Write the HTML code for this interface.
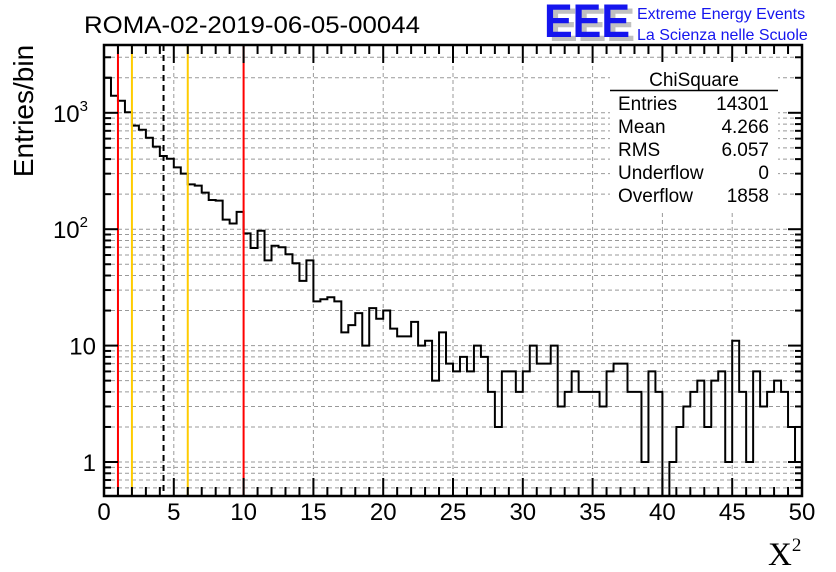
<!DOCTYPE html>
<html><head><meta charset="utf-8"><style>
body{margin:0;background:#fff}
svg{display:block;font-family:"Liberation Sans",sans-serif}
</style></head><body>
<svg id="c" width="836" height="572" viewBox="0 0 836 572">
<rect width="836" height="572" fill="#fff"/>
<g id="grid"></g>
<g id="marks"></g>
<g id="axes"></g>
<text x="84" y="33" font-size="24" textLength="336" lengthAdjust="spacingAndGlyphs">ROMA-02-2019-06-05-00044</text>
<g>
<text x="549" y="41" font-size="47" font-weight="bold" fill="#c0c0c0" textLength="86" lengthAdjust="spacingAndGlyphs">EEE</text>
<text x="544" y="37" font-size="47" font-weight="bold" fill="#1515ee" textLength="86" lengthAdjust="spacingAndGlyphs">EEE</text>
<text x="637" y="19" font-size="16" fill="#1515ee">Extreme Energy Events</text>
<text x="637" y="40" font-size="16" fill="#1515ee">La Scienza nelle Scuole</text>
</g>
<g font-size="19">
<rect x="610" y="62" width="168" height="150" fill="#fff"/>
<text x="694" y="86" text-anchor="middle">ChiSquare</text>
<line x1="610" y1="90.5" x2="778" y2="90.5" stroke="#000" stroke-width="1.5"/>
<text x="618" y="110">Entries</text><text x="769" y="110" text-anchor="end">14301</text>
<text x="618" y="133">Mean</text><text x="769" y="133" text-anchor="end">4.266</text>
<text x="618" y="156">RMS</text><text x="769" y="156" text-anchor="end">6.057</text>
<text x="618" y="179">Underflow</text><text x="769" y="179" text-anchor="end">0</text>
<text x="618" y="202">Overflow</text><text x="769" y="202" text-anchor="end">1858</text>
</g>
<text transform="translate(33,111) rotate(-90)" text-anchor="middle" font-size="28">Entries/bin</text>
<text x="768" y="565" font-size="33" font-family="Liberation Serif,serif">X<tspan font-size="19" dy="-14">2</tspan></text>
</svg>
<script>
const binCounts=[2000,1400,1270,1010,775,716,611,512,425,403,340,300,243,237,206,178,176,121,112,141,92,69,97,54,72,70,61,51,36,54,24,25,26,24,13,15,
19,10,21,17,20,14,12,12,16,10,11,5,13,7,6,8,6,10,8,4,2,6,6,4,6,10,7,7,10,3,4,
6,4,4,4,3,6,7,7,4,4,1,6,4,0,1,2,3,4,5,2,5,6,1,11,4,1,6,3,4,5,4,2,1];
const xTicks=[0,5,10,15,20,25,30,35,40,45,50];
const yDecades=[1,10,100,1000];
const yDecadeLabels=["1","10","10|2","10|3"];
const redLines=[1,10];
const yellowLines=[2,6];
const meanLine=[4.266];
const NS='http://www.w3.org/2000/svg';
const L=104,R=802,T=45,B=496,xmin=0,xmax=50,binW=0.5;
const y1=462,dec=116.4;
const X=v=>L+(v-xmin)/(xmax-xmin)*(R-L);
const Y=v=>v<=0?B:Math.min(B,Math.max(T,y1-dec*Math.log10(v)));
function mk(t,a,p){const e=document.createElementNS(NS,t);for(const k in a)e.setAttribute(k,a[k]);p.appendChild(e);return e;}
const grid=document.getElementById('grid'),marks=document.getElementById('marks'),axes=document.getElementById('axes');
for(const t of xTicks){if(t===xmin||t===xmax)continue;const g=mk('line',{x1:X(t),x2:X(t),y1:T,y2:B,stroke:'#999','stroke-dasharray':'4,3'},grid);

}
for(const d of [0.1,1,10,100,1000])for(let m=1;m<10;m++){const v=d*m;const y=y1-dec*Math.log10(v);if(y<=T||y>=B)continue;
const g=mk('line',{x1:L,x2:R,y1:y,y2:y,stroke:'#999','stroke-dasharray':'4,3'},grid);


const tl=(m===1)?14:7;
const t1=mk('line',{x1:L,x2:L+tl,y1:y,y2:y,stroke:'#000','stroke-width':2},axes);


const t2=mk('line',{x1:R-tl,x2:R,y1:y,y2:y,stroke:'#000','stroke-width':2},axes);

}
let d='M'+X(0)+','+Y(binCounts[0]);
binCounts.forEach((c,i)=>{const y=Y(c);d+=' L'+X(i*binW)+','+y+' L'+X((i+1)*binW)+','+y;});
const h=mk('path',{d:d,fill:'none',stroke:'#000','stroke-width':2},marks);


function vline(v,col,dash,name){const e=mk('line',{x1:X(v),x2:X(v),y1:T,y2:B,stroke:col,'stroke-width':2},marks);if(dash)e.setAttribute('stroke-dasharray',dash);

}
redLines.forEach(v=>vline(v,'#ff0000',null,'red-cut-line'));
yellowLines.forEach(v=>vline(v,'#ffcc00',null,'yellow-cut-line'));
meanLine.forEach(v=>vline(v,'#000',"6,4",'mean-line'));
const f=mk('rect',{x:L,y:T,width:R-L,height:B-T,fill:'none',stroke:'#000','stroke-width':2.5},axes);


for(let v=xmin;v<=xmax;v++){const tl=(v%5===0)?18:9;
const a=mk('line',{x1:X(v),x2:X(v),y1:B-tl,y2:B,stroke:'#000','stroke-width':2},axes);


const b=mk('line',{x1:X(v),x2:X(v),y1:T,y2:T+tl,stroke:'#000','stroke-width':2},axes);

}
xTicks.forEach(t=>{const e=mk('text',{x:X(t),y:520,'text-anchor':'middle','font-size':24},axes);e.textContent=t;

});
yDecades.forEach((v,i)=>{const parts=yDecadeLabels[i].split('|');const e=mk('text',{x:parts[1]?88:96,y:Y(v)+9,'text-anchor':'end','font-size':24},axes);
e.textContent=parts[0];
if(parts[1]){const s=mk('tspan',{'font-size':15,dy:-11},e);s.textContent=parts[1];}

});
</script>
</body></html>
